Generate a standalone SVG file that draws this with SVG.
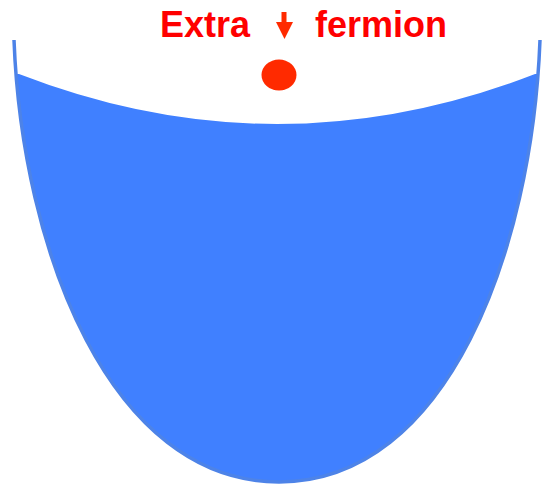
<svg xmlns="http://www.w3.org/2000/svg" width="552" height="484" viewBox="0 0 552 484">
  <style>
    .label { font-family: "Liberation Sans", Arial, sans-serif; font-weight: bold; font-size: 36px; fill: #ff0000; }
  </style>
  <defs>
    <clipPath id="bowlClip">
      <path d="M14,40 C22,250 110,482 279,482 C448,482 532,250 540,40 Z"/>
    </clipPath>
  </defs>
  <rect width="552" height="484" fill="#ffffff"/>
  <g id="bowl">
    <path d="M0,74 L19,74 Q277,174 535,74 L552,74 L552,484 L0,484 Z" fill="#4080ff" clip-path="url(#bowlClip)"/>
    <path d="M14,40 C22,250 110,482 279,482 C448,482 532,250 540,40" fill="none" stroke="#4d83e8" stroke-width="3.5"/>
  </g>
  <g id="fermion">
    <ellipse cx="279" cy="75" rx="17.5" ry="15.5" fill="#ff2a00"/>
  </g>
  <g id="label">
    <text class="label" x="160" y="37">Extra</text>
    <text class="label" x="315" y="37">fermion</text>
    <g id="spin-arrow" fill="#ff2a00">
      <rect x="281.5" y="12" width="5" height="11"/>
      <polygon points="276,22 293,22 284.5,39"/>
    </g>
  </g>
</svg>
